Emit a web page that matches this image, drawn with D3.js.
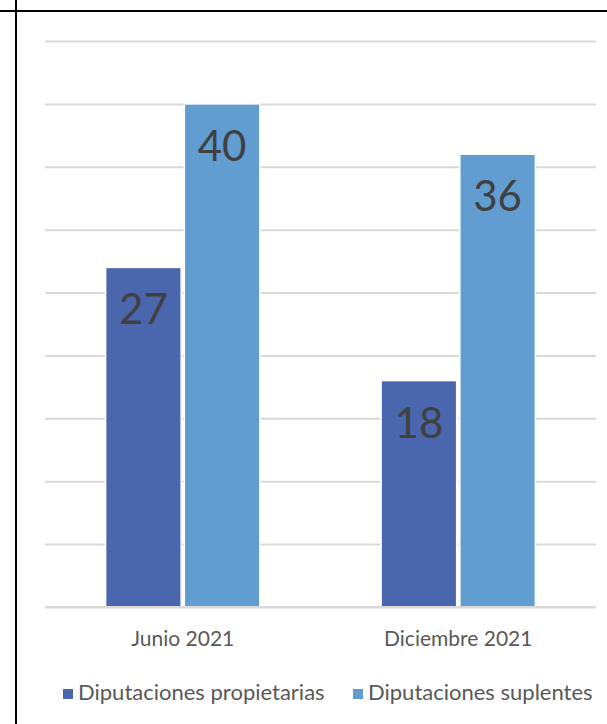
<!DOCTYPE html>
<html><head><meta charset="utf-8">
<script src="https://cdn.jsdelivr.net/npm/d3@7"></script>
<style>body{margin:0;background:#fff;}svg{display:block;}</style>
</head><body>
<script>
const categories = ["Junio 2021", "Diciembre 2021"];
const seriesNames = ["Diputaciones propietarias", "Diputaciones suplentes"];
const propietarias = [27, 18];
const suplentes = [40, 36];
const yTicks = [0, 5, 10, 15, 20, 25, 30, 35, 40, 45];
const colors = ["#4A66AC", "#629DD1"];

const W = 607, H = 724;
const svg = d3.select("body").append("svg").attr("width", W).attr("height", H);
const font = "Lato, 'Open Sans', sans-serif";

// frame lines
svg.append("line").attr("x1", 0).attr("x2", W).attr("y1", 11).attr("y2", 11).attr("stroke", "#000").attr("stroke-width", 2);
svg.append("line").attr("x1", 16).attr("x2", 16).attr("y1", 0).attr("y2", H).attr("stroke", "#000").attr("stroke-width", 2);

const plot = {l: 45, r: 596, t: 41, b: 607};
const x0 = d3.scaleBand().domain(categories).range([plot.l, plot.r]).paddingInner(0.44).paddingOuter(0.22);
const x1 = d3.scaleBand().domain(seriesNames).range([0, x0.bandwidth()]).paddingInner(0.04).paddingOuter(0);
const y = d3.scaleLinear().domain([0, 45]).range([plot.b, plot.t]);

// gridlines
const grid = svg.append("g").call(d3.axisLeft(y).tickValues(yTicks).tickSize(-(plot.r - plot.l)).tickFormat(""))
  .attr("transform", `translate(${plot.l},0)`);
grid.select(".domain").remove();
grid.selectAll("line").attr("stroke", "#D9D9D9").attr("stroke-width", 2);

const data = categories.map((c, i) => ({cat: c, vals: [propietarias[i], suplentes[i]]}));
const g = svg.selectAll("g.cat").data(data).enter().append("g").attr("class", "cat")
  .attr("transform", d => `translate(${x0(d.cat)},0)`);
const bars = g.selectAll("g.bar").data(d => d.vals.map((v, j) => ({name: seriesNames[j], v, j})))
  .enter().append("g");
bars.append("rect")
  .attr("x", d => x1(d.name)).attr("width", x1.bandwidth())
  .attr("y", d => y(d.v)).attr("height", d => y(0) - y(d.v))
  .attr("fill", d => colors[d.j]).attr("stroke", "#fff").attr("stroke-width", 1.5);
bars.append("text")
  .attr("x", d => x1(d.name) + x1.bandwidth() / 2)
  .attr("y", d => y(d.v) + 57)
  .attr("text-anchor", "middle").attr("font-family", font).attr("font-size", 42)
  .attr("fill", "#404040").text(d => d.v);

// x axis
const xa = svg.append("g").attr("transform", `translate(0,${plot.b})`).call(d3.axisBottom(x0).tickSize(0));
xa.select(".domain").attr("stroke", "#D9D9D9").attr("stroke-width", 2).attr("d", `M${plot.l},0H${plot.r}`);
xa.selectAll("text").attr("y", 39).attr("dy", null)
  .attr("font-family", font).attr("font-size", 21).attr("fill", "#595959");

// legend
const legendX = [63, 353];
const lg = svg.selectAll("g.leg").data(seriesNames).enter().append("g")
  .attr("transform", (d, i) => `translate(${legendX[i]},700)`);
lg.append("rect").attr("x", 0).attr("y", -11).attr("width", 10).attr("height", 10).attr("fill", (d, i) => colors[i]);
lg.append("text").attr("x", 15).attr("y", 0).attr("font-family", font).attr("font-size", 22)
  .attr("fill", "#595959").text(d => d);
</script>
</body></html>
